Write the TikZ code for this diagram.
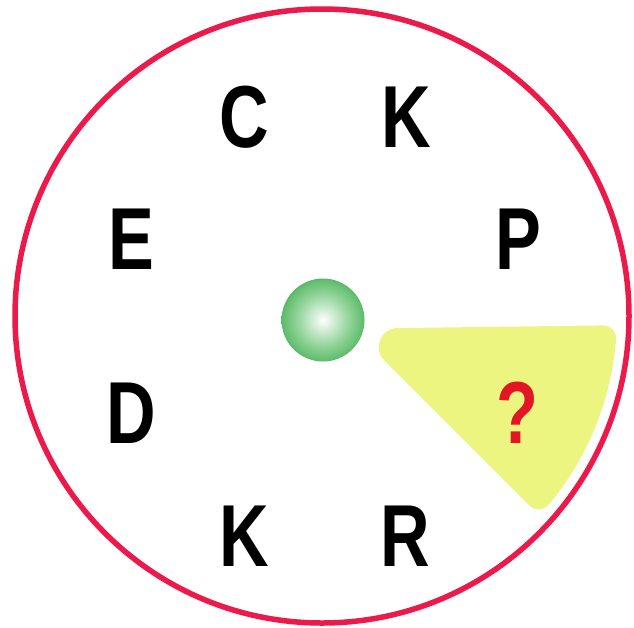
\documentclass[tikz,border=0pt]{standalone}
\usepackage{fontspec}
\usetikzlibrary{calc}
\newfontfamily\letterfont[FakeStretch=0.78]{Liberation Sans}
\definecolor{ringred}{RGB}{236,26,74}
\definecolor{qred}{RGB}{226,22,36}
\definecolor{wedgeyellow}{RGB}{236,245,128}
\definecolor{ballgreen}{RGB}{98,190,110}
\definecolor{ballmid}{RGB}{150,214,158}
\pgfdeclareradialshading{ballshade}{\pgfpoint{0bp}{0bp}}{color(0bp)=(white); color(4bp)=(white!82!ballgreen); color(15bp)=(ballmid); color(24bp)=(ballgreen); color(25bp)=(ballgreen!95!black); color(50bp)=(ballgreen!95!black)}
\begin{document}
\begin{tikzpicture}[x=1pt,y=-1pt,
  letter/.style={font=\letterfont\bfseries\fontsize{88}{88}\selectfont, inner sep=0pt, text=black},
  qmark/.style={letter, text=qred}]
\useasboundingbox (0,0) rectangle (634,627);
\fill[white] (0,0) rectangle (634,627);
% outer ring
\coordinate (O) at (322,316);
\draw[ringred, line width=5.5pt] (O) circle (307);
% yellow wedge: corners and tangent points
\coordinate (A)  at (352.7,328.7);
\coordinate (B)  at (616.9,325.2);
\coordinate (C)  at (539.4,515.4);
\coordinate (P1) at (396.7,328.1);
\coordinate (P2) at (602.9,325.4);
\coordinate (P3) at (616.09,339.15);
\coordinate (P4) at (548.7,504.8);
\coordinate (P5) at (529.5,505.5);
\coordinate (P6) at (383.8,359.8);
\fill[wedgeyellow] (P1) -- (P2)
  .. controls ($(P2)!0.55!(B)$) and ($(P3)!0.55!(B)$) .. (P3)
  arc[start angle=4.5, end angle=39.8, radius=295]
  .. controls ($(P4)!0.55!(C)$) and ($(P5)!0.55!(C)$) .. (P5)
  -- (P6)
  .. controls ($(P6)!0.36!(A)$) and ($(P1)!0.36!(A)$) .. (P1) -- cycle;
% ball
\shade[shading=ballshade] (323,320) circle (41.5);
% letters
\node[letter] (c)  at (244,117) {C};
\node[letter] (k1) at (406,117) {K};
\node[letter] (e)  at (131,239) {E};
\node[letter] (p)  at (518,239) {P};
\node[letter] (d)  at (131,413) {D};
\node[qmark]  (q)  at (517,413) {?};
\node[letter] (k2) at (244,536) {K};
\node[letter] (r)  at (405,536) {R};
\end{tikzpicture}
\end{document}
